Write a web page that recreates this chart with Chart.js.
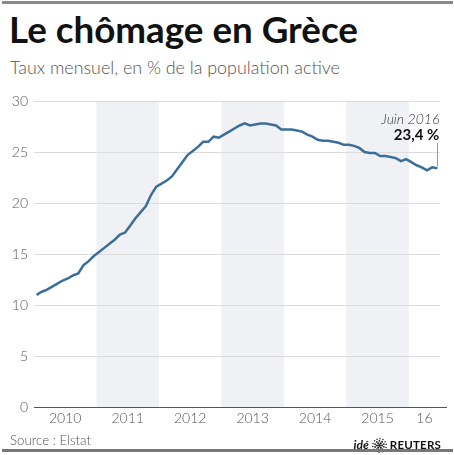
<!DOCTYPE html>
<html><head><meta charset="utf-8">
<script src="https://cdn.jsdelivr.net/npm/chart.js@4/dist/chart.umd.min.js"></script>
<style>
html,body{margin:0;padding:0;background:#fff;}
#wrap{position:relative;width:454px;height:455px;overflow:hidden;font-family:Lato,"Open Sans",sans-serif;}
#c{position:absolute;left:0;top:0;}
.rule{position:absolute;left:2px;width:451px;height:3px;background:#8a8a8a;}
.txt{position:absolute;white-space:nowrap;line-height:1;}
.bl{display:inline-block;width:0;height:0;}
#title{left:9px;top:0;font-weight:700;font-size:34px;color:#111;}
#sub{left:10px;top:0;font-weight:300;font-size:19px;color:#555;}
#src{left:10px;top:0;font-weight:300;font-size:15px;color:#555;}
#logo{right:11px;top:0;display:flex;align-items:center;gap:2px;color:#111;}
#logo .ide{font-weight:700;font-style:italic;font-size:12px;}
#logo .reu{font-weight:700;font-size:11.5px;letter-spacing:0.2px;}
</style></head>
<body><div id="wrap">
<div class="rule" style="top:1px"></div>
<div id="title" class="txt">Le chômage en Grèce<span class="bl"></span></div>
<div id="sub" class="txt">Taux mensuel, en % de la population active<span class="bl"></span></div>
<canvas id="c" width="454" height="455" style="width:454px;height:455px"></canvas>
<div id="src" class="txt">Source : Elstat<span class="bl"></span></div>
<div id="logo" class="txt"><span class="ide">idé</span><svg id="globe" width="17" height="17" viewBox="0 0 17 17"></svg><span class="reu">REUTERS</span><span class="bl"></span></div>
<div class="rule" style="top:449px;background:#777"></div>
</div>
<script>
// Monthly unemployment rate (%), Jan 2010 – Jun 2016
const u2010=[11.0,11.3,11.5,11.8,12.1,12.4,12.6,12.9,13.1,13.9,14.3,14.8];
const u2011=[15.2,15.6,16.0,16.4,16.9,17.1,17.8,18.5,19.1,19.7,20.8,21.6];
const u2012=[21.9,22.2,22.6,23.3,24.0,24.7,25.1,25.5,26.0,26.0,26.5,26.4];
const u2013=[26.7,27.0,27.3,27.6,27.8,27.6,27.7,27.8,27.8,27.7,27.6,27.2];
const u2014=[27.2,27.2,27.1,27.0,26.7,26.5,26.2,26.1,26.1,26.0,25.9,25.7];
const u2015=[25.7,25.6,25.4,25.0,24.9,24.9,24.6,24.6,24.5,24.4,24.1,24.3];
const u2016=[24.0,23.7,23.5,23.2,23.5,23.4];
const yearLabels=['2010','2011','2012','2013','2014','2015','16'];
const yTicks=[0,5,10,15,20,25,30];
const shadedYears=['2011','2013','2015'];
const annotLabel='Juin 2016';

const yearData=[u2010,u2011,u2012,u2013,u2014,u2015,u2016];
const values=[].concat(...yearData);
const points=values.map((v,i)=>({x:i,y:v}));
const yearStart=[];let acc=0;yearData.forEach(a=>{yearStart.push(acc);acc+=a.length;});
const yearCenters=yearData.map((a,i)=>yearStart[i]+(a.length-1)/2);
const bands=shadedYears.map(l=>{const i=yearLabels.indexOf(l);return [yearStart[i]-0.5,yearStart[i]+yearData[i].length-0.5];});
const lastIdx=values.length-1;

const deco={id:'deco',
 beforeDraw(chart){
  const {ctx,chartArea:a,scales:{x}}=chart;
  ctx.save();ctx.fillStyle='#f0f1f4';
  bands.forEach(([s,e])=>{const x0=x.getPixelForValue(s),x1=x.getPixelForValue(e);ctx.fillRect(x0,a.top,x1-x0,a.bottom-a.top);});
  ctx.restore();
 },
 afterDraw(chart){
  const {ctx,chartArea:a,scales:{x,y}}=chart;
  ctx.save();
  ctx.strokeStyle='#555';ctx.lineWidth=1;
  ctx.beginPath();ctx.moveTo(a.left,Math.round(a.bottom)+0.5);ctx.lineTo(a.right+7,Math.round(a.bottom)+0.5);ctx.stroke();
  const xp=x.getPixelForValue(lastIdx), yp=y.getPixelForValue(values[lastIdx]);
  ctx.strokeStyle='#999';
  ctx.beginPath();ctx.moveTo(Math.round(xp)+0.5,a.top+42);ctx.lineTo(Math.round(xp)+0.5,yp-2);ctx.stroke();
  ctx.textAlign='right';ctx.textBaseline='alphabetic';
  ctx.fillStyle='#333';ctx.font='italic 300 14px Lato, "Open Sans", sans-serif';
  ctx.fillText(annotLabel,xp+2,a.top+23);
  ctx.fillStyle='#111';ctx.font='bold 15px Lato, "Open Sans", sans-serif';
  ctx.fillText(values[lastIdx].toFixed(1).replace('.',',')+' %',xp+2,a.top+39);
  ctx.restore();
 }
};

new Chart(document.getElementById('c'),{
 type:'line',
 data:{datasets:[{data:points,borderColor:'#3b6e98',borderWidth:2.5,pointRadius:0,tension:0,fill:false}]},
 options:{
  responsive:false,animation:false,events:[],
  layout:{padding:{top:101,right:14,bottom:0,left:0}},
  plugins:{legend:{display:false},tooltip:{enabled:false}},
  scales:{
   x:{type:'linear',min:-0.5,max:lastIdx+0.5,
      grid:{display:false,drawTicks:false},border:{display:false},
      afterBuildTicks(s){s.ticks=yearCenters.map(v=>({value:v}));},
      ticks:{autoSkip:false,maxRotation:0,padding:3,color:'#555',font:{family:'Lato',size:14,weight:'300'},callback:(v,i)=>yearLabels[i]},
      afterFit(s){s.height=48;}},
   y:{min:0,max:30,
      afterBuildTicks(s){s.ticks=yTicks.map(v=>({value:v}));},
      grid:{color:'#dcdcdc',drawTicks:false,lineWidth:c=>c.tick&&c.tick.value===0?0:1},
      border:{display:false},
      ticks:{padding:6,color:'#555',font:{family:'Lato',size:14,weight:'300'}},
      afterFit(s){s.width=34;}}
  }
 },
 plugins:[deco]
});

// globe logo dots
(function(){const svg=document.getElementById('globe');let h='';
 const rings=[[0,1],[2.6,6],[4.6,10],[6.8,14]];
 rings.forEach(([r,n])=>{for(let k=0;k<n;k++){const t=k/n*2*Math.PI+(r>3?0.3:0);const cx=8.5+r*Math.cos(t),cy=8.5+r*Math.sin(t);const rr=r===0?1.4:(r<3?1.1:(r<5?0.9:0.75));h+=`<circle cx="${cx.toFixed(2)}" cy="${cy.toFixed(2)}" r="${rr}" fill="#222"/>`;}});
 svg.innerHTML=h;})();

function place(id,baseline,targetW){
 const el=document.getElementById(id);
 if(targetW){const w=el.getBoundingClientRect().width;const fs=parseFloat(getComputedStyle(el).fontSize);el.style.fontSize=(fs*targetW/w)+'px';}
 const wrapTop=document.getElementById('wrap').getBoundingClientRect().top;
 const cur=el.querySelector('.bl').getBoundingClientRect().top-wrapTop;
 el.style.top=(parseFloat(el.style.top||0)+baseline-cur)+'px';
}
place('title',43,349);
place('sub',74,330);
place('src',445,81);
place('logo',445,0);
</script>
</body></html>
